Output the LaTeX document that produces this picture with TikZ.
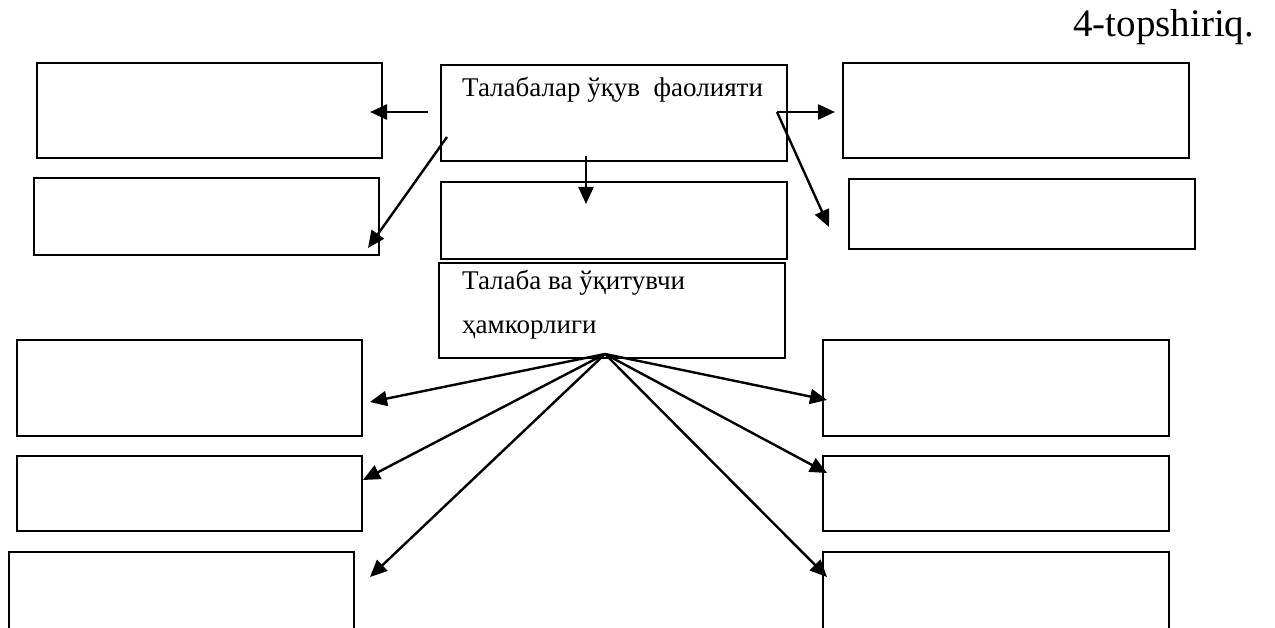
\documentclass[tikz,border=0pt]{standalone}
\usepackage{fontspec}
\setmainfont{Liberation Serif}
\usetikzlibrary{arrows.meta}
\begin{document}
\begin{tikzpicture}[x=1pt,y=-1pt,
  box/.style={draw,line width=2pt,inner sep=0pt,anchor=north west},
  arr/.style={line width=2.4pt,-{Triangle[length=17pt,width=15pt]}},
  lbl/.style={anchor=base west,inner sep=0pt,font=\fontsize{27}{30}\selectfont}]
\useasboundingbox (0,0) rectangle (1275,628);
% boxes
\node[box,minimum width=345pt,minimum height=95pt] (tl1) at (36,62) {};
\node[box,minimum width=345pt,minimum height=77pt] (tl2) at (33,177) {};
\node[box,minimum width=346pt,minimum height=96pt] (c1) at (440,64) {};
\node[box,minimum width=346pt,minimum height=77pt] (c2) at (440,181) {};
\node[box,minimum width=346pt,minimum height=95pt] (c3) at (438,262) {};
\node[box,minimum width=346pt,minimum height=95pt] (tr1) at (842,62) {};
\node[box,minimum width=346pt,minimum height=70pt] (tr2) at (848,178) {};
\node[box,minimum width=345pt,minimum height=96pt] (l1) at (16,339) {};
\node[box,minimum width=345pt,minimum height=75pt] (l2) at (16,455) {};
\node[box,minimum width=345pt,minimum height=96pt] (l3) at (8,551) {};
\node[box,minimum width=346pt,minimum height=96pt] (r1) at (822,339) {};
\node[box,minimum width=346pt,minimum height=75pt] (r2) at (822,455) {};
\node[box,minimum width=346pt,minimum height=96pt] (r3) at (822,551) {};
% texts
\node[lbl,font=\fontsize{39}{42}\selectfont] (title) at (1073,37) {4-topshiriq.};
\node[lbl] (t1) at (462,97) {Талабалар ўқув\ \ фаолияти};
\node[lbl] (t2) at (462,290) {Талаба ва ўқитувчи};
\node[lbl] (t3) at (462,334) {ҳамкорлиги};
% connector ends
\coordinate (sL) at (428,112);
\coordinate (eL) at (370,112);
\coordinate (sD) at (447,137);
\coordinate (eD) at (368,248);
\coordinate (sV) at (586,156);
\coordinate (eV) at (586,204);
\coordinate (sR) at (777,112);
\coordinate (eR) at (835,112);
\coordinate (eRD) at (829,227);
\coordinate (hub) at (605,354);
\coordinate (el1) at (370,402);
\coordinate (el2) at (363,480);
\coordinate (el3) at (370,577);
\coordinate (er1) at (827,400);
\coordinate (er2) at (827,473);
\coordinate (er3) at (827,577);
% connectors
\draw[arr] (sL) -- (eL);
\draw[arr] (sD) -- (eD);
\draw[arr] (sV) -- (eV);
\draw[arr] (sR) -- (eR);
\draw[arr] (sR) -- (eRD);
\foreach \e in {el1,el2,el3,er1,er2,er3}
  \draw[arr] (hub) -- (\e);
\end{tikzpicture}
\end{document}
